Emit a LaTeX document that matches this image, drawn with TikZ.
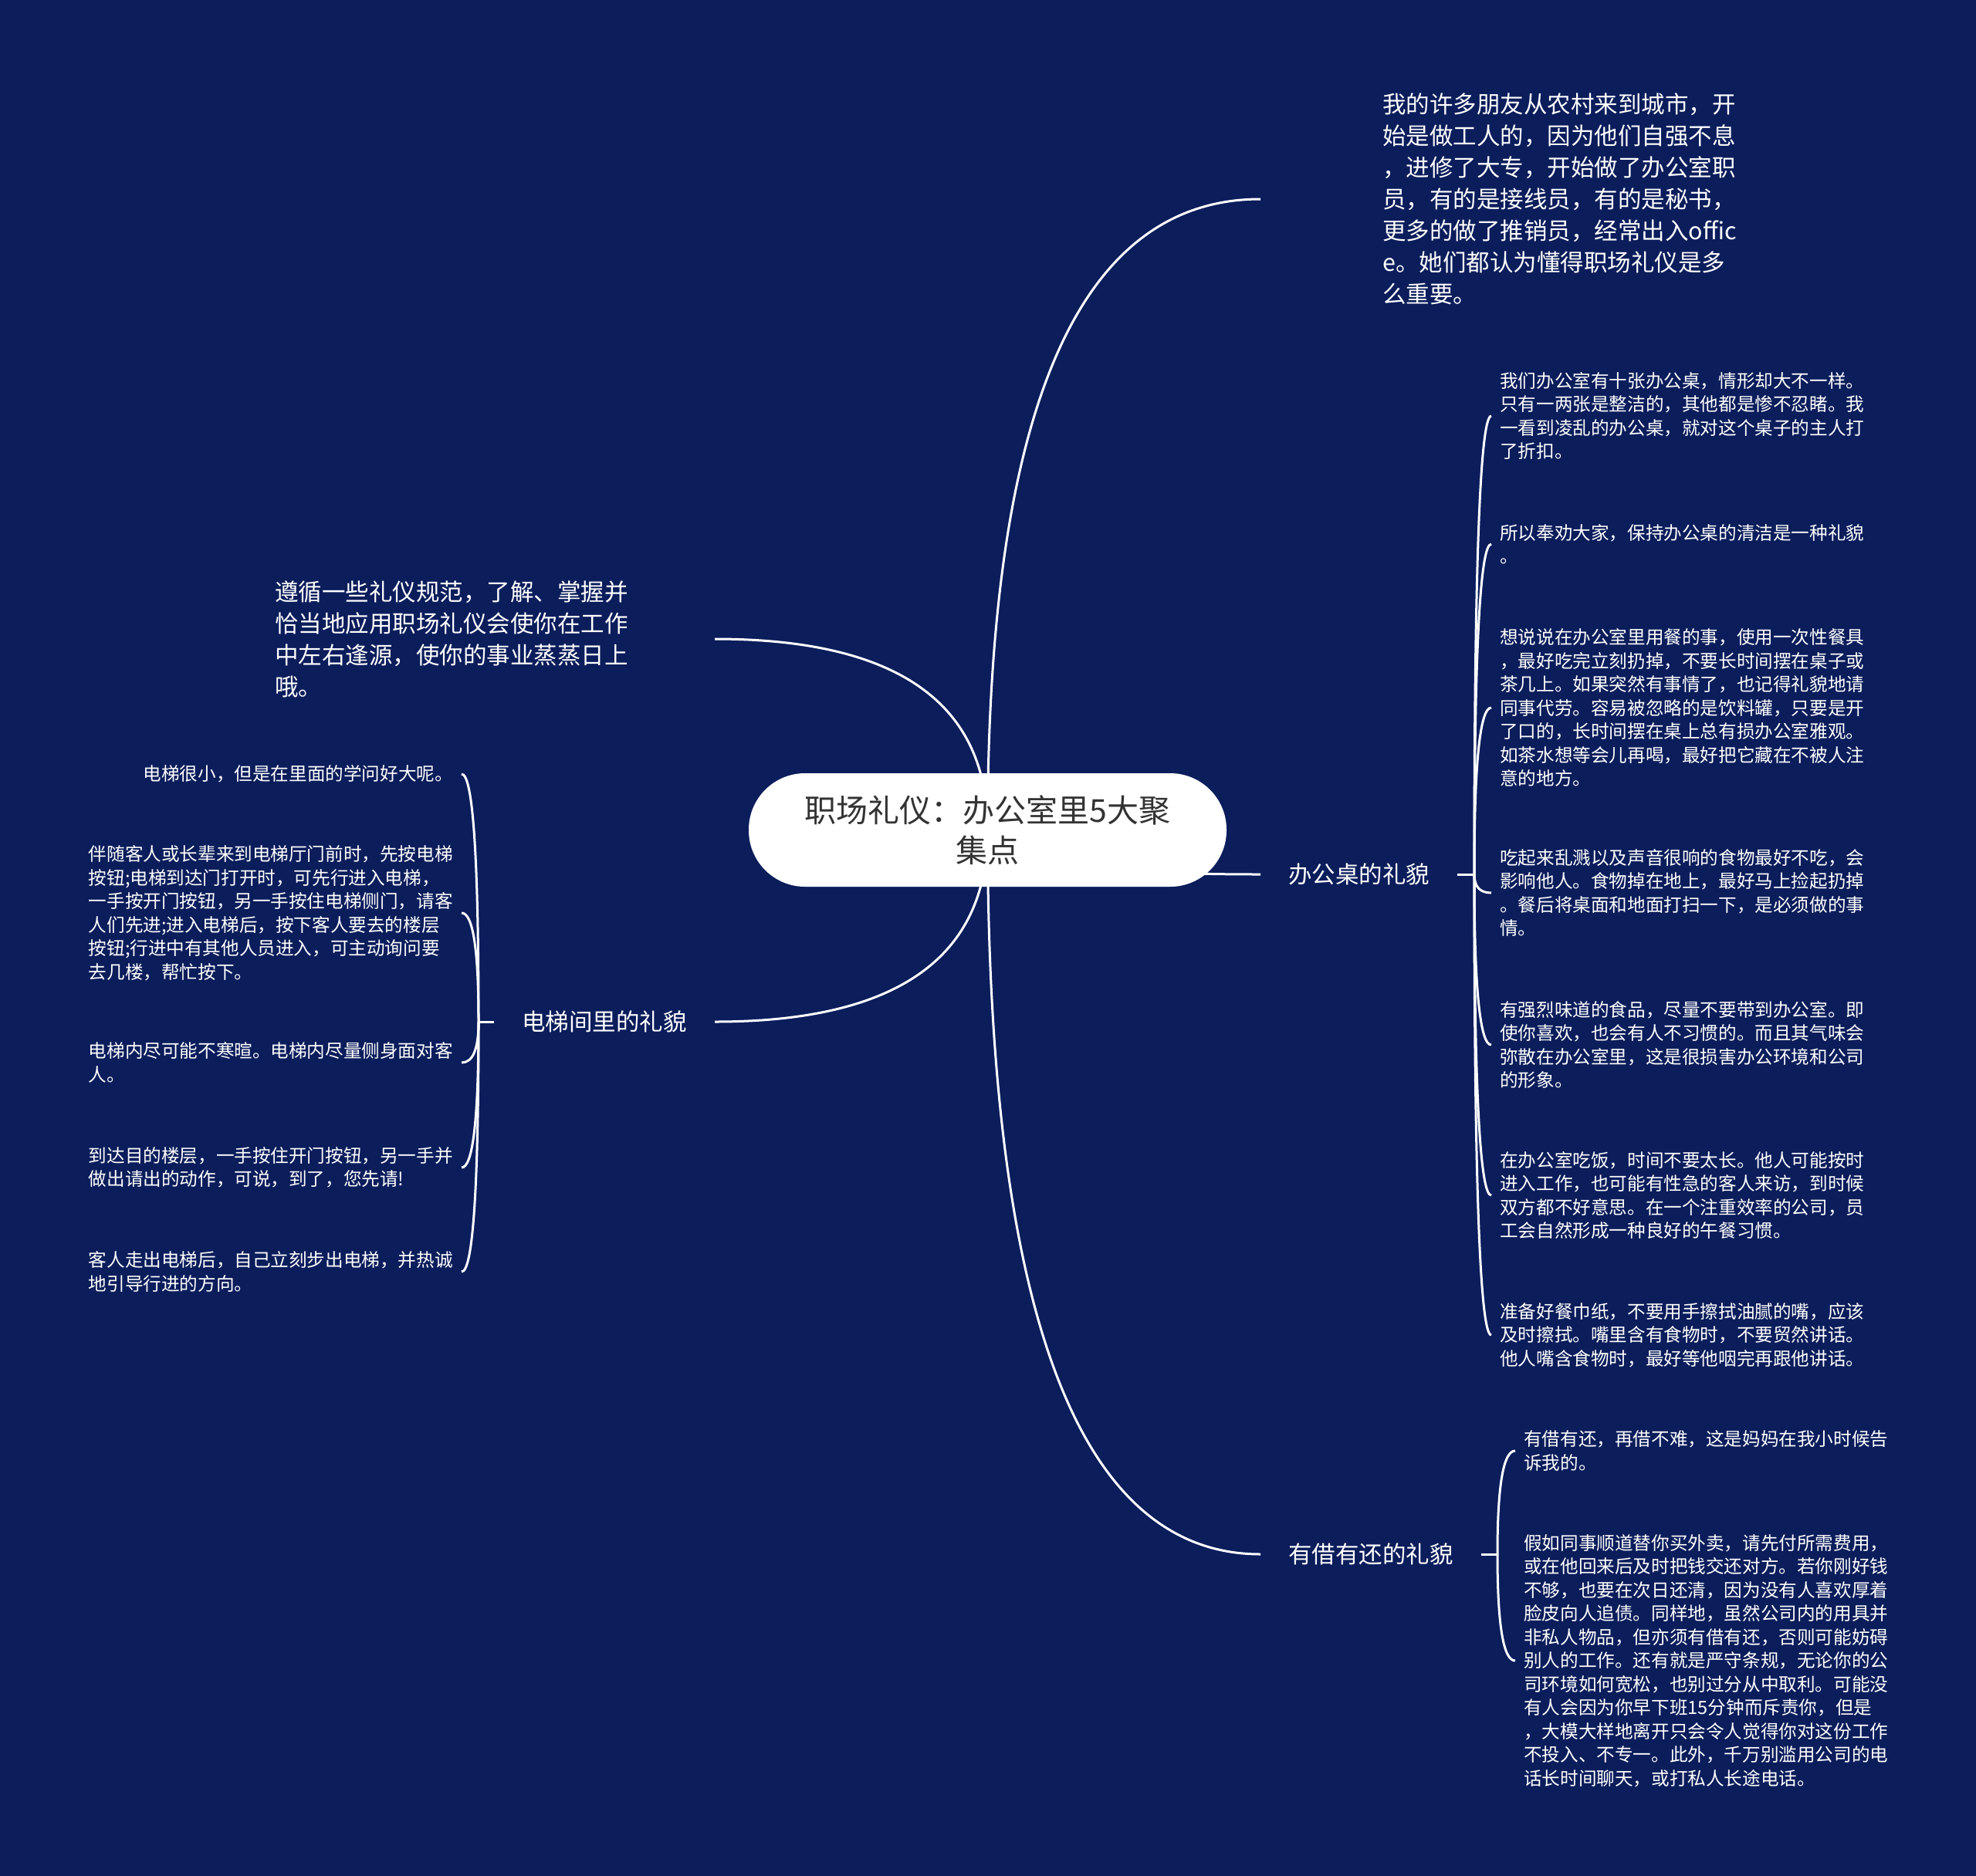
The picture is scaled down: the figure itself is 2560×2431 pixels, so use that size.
\documentclass[tikz,border=0pt]{standalone}
\usepackage{fontspec}
\newfontfamily\cjk{Noto Sans CJK SC}
\usetikzlibrary{calc}
\definecolor{bgnavy}{HTML}{0B1D5B}
\definecolor{rootgray}{HTML}{333333}
\pgfdeclarelayer{bglayer}
\pgfdeclarelayer{connlayer}
\pgfsetlayers{bglayer,connlayer,main}
\newcommand{\mmcurve}[2]{\draw[conn] (#1) .. controls ($(#1)!0.667!(#1|-#2)$) and ($(#2)!0.667!(#1|-#2)$) .. (#2);}
\begin{document}
\begin{tikzpicture}[x=1pt,y=-1pt,
  conn/.style={draw=white,line width=3pt},
  rootnode/.style={fill=white, rounded corners=73pt, minimum width=619pt, minimum height=147pt, inner sep=0pt, align=center, text=rootgray, font=\cjk\fontsize{41}{52}\selectfont},
  bigtext/.style={text=white, align=left, inner xsep=0pt, inner ysep=2pt, font=\cjk\fontsize{30.5}{41}\selectfont},
  branch/.style={text=white, align=center, inner xsep=36pt, inner ysep=4pt, font=\cjk\fontsize{30.5}{41}\selectfont},
  leaf/.style={text=white, align=left, inner xsep=11pt, inner ysep=3pt, font=\cjk\fontsize{23.6}{30.5}\selectfont}]
\begin{pgfonlayer}{bglayer}
\fill[bgnavy] (0,0) rectangle (2560,2431);
\end{pgfonlayer}
\useasboundingbox (0,0) rectangle (2560,2431);

% root
\node[rootnode] (root) at (1279.5,1075.5) {职场礼仪：办公室里5大聚\\集点};

% top right text
\node[bigtext, anchor=west] (t1) at (1791,258) {我的许多朋友从农村来到城市，开\\始是做工人的，因为他们自强不息\\，进修了大专，开始做了办公室职\\员，有的是接线员，有的是秘书，\\更多的做了推销员，经常出入offic\\e。她们都认为懂得职场礼仪是多\\么重要。};
\coordinate (t1in) at (1633,258);

% left text
\node[bigtext, anchor=west] (t2) at (356,828) {遵循一些礼仪规范，了解、掌握并\\恰当地应用职场礼仪会使你在工作\\中左右逢源，使你的事业蒸蒸日上\\哦。};
\coordinate (t2in) at (926,828);

% branches
\node[branch, anchor=west] (desk) at (1633,1133) {办公桌的礼貌};
\node[branch, anchor=west] (borrow) at (1633,2014) {有借有还的礼貌};
\node[branch, anchor=east] (elev) at (926,1324) {电梯间里的礼貌};

\coordinate (dT) at (1910,1133);
\coordinate (bT) at (1940,2014);
\coordinate (eT) at (620,1324);

% desk leaves
\node[leaf, anchor=west] (d1) at (1932,539) {我们办公室有十张办公桌，情形却大不一样。\\只有一两张是整洁的，其他都是惨不忍睹。我\\一看到凌乱的办公桌，就对这个桌子的主人打\\了折扣。};
\node[leaf, anchor=west] (d2) at (1932,705) {所以奉劝大家，保持办公桌的清洁是一种礼貌\\。};
\node[leaf, anchor=west] (d3) at (1932,917) {想说说在办公室里用餐的事，使用一次性餐具\\，最好吃完立刻扔掉，不要长时间摆在桌子或\\茶几上。如果突然有事情了，也记得礼貌地请\\同事代劳。容易被忽略的是饮料罐，只要是开\\了口的，长时间摆在桌上总有损办公室雅观。\\如茶水想等会儿再喝，最好把它藏在不被人注\\意的地方。};
\node[leaf, anchor=west] (d4) at (1932,1157) {吃起来乱溅以及声音很响的食物最好不吃，会\\影响他人。食物掉在地上，最好马上捡起扔掉\\。餐后将桌面和地面打扫一下，是必须做的事\\情。};
\node[leaf, anchor=west] (d5) at (1932,1354) {有强烈味道的食品，尽量不要带到办公室。即\\使你喜欢，也会有人不习惯的。而且其气味会\\弥散在办公室里，这是很损害办公环境和公司\\的形象。};
\node[leaf, anchor=west] (d6) at (1932,1549) {在办公室吃饭，时间不要太长。他人可能按时\\进入工作，也可能有性急的客人来访，到时候\\双方都不好意思。在一个注重效率的公司，员\\工会自然形成一种良好的午餐习惯。};
\node[leaf, anchor=west] (d7) at (1932,1730) {准备好餐巾纸，不要用手擦拭油腻的嘴，应该\\及时擦拭。嘴里含有食物时，不要贸然讲话。\\他人嘴含食物时，最好等他咽完再跟他讲话。};

% borrow leaves
\node[leaf, anchor=west] (b1) at (1963,1880) {有借有还，再借不难，这是妈妈在我小时候告\\诉我的。};
\node[leaf, anchor=west] (b2) at (1963,2152) {假如同事顺道替你买外卖，请先付所需费用，\\或在他回来后及时把钱交还对方。若你刚好钱\\不够，也要在次日还清，因为没有人喜欢厚着\\脸皮向人追债。同样地，虽然公司内的用具并\\非私人物品，但亦须有借有还，否则可能妨碍\\别人的工作。还有就是严守条规，无论你的公\\司环境如何宽松，也别过分从中取利。可能没\\有人会因为你早下班15分钟而斥责你，但是\\，大模大样地离开只会令人觉得你对这份工作\\不投入、不专一。此外，千万别滥用公司的电\\话长时间聊天，或打私人长途电话。};

% elevator leaves
\node[leaf, anchor=east] (e1) at (598,1003) {电梯很小，但是在里面的学问好大呢。};
\node[leaf, anchor=east] (e2) at (598,1183) {伴随客人或长辈来到电梯厅门前时，先按电梯\\按钮;电梯到达门打开时，可先行进入电梯，\\一手按开门按钮，另一手按住电梯侧门，请客\\人们先进;进入电梯后，按下客人要去的楼层\\按钮;行进中有其他人员进入，可主动询问要\\去几楼，帮忙按下。};
\node[leaf, anchor=east] (e3) at (598,1377) {电梯内尽可能不寒暄。电梯内尽量侧身面对客\\人。};
\node[leaf, anchor=east] (e4) at (598,1513) {到达目的楼层，一手按住开门按钮，另一手并\\做出请出的动作，可说，到了，您先请!};
\node[leaf, anchor=east] (e5) at (598,1648) {客人走出电梯后，自己立刻步出电梯，并热诚\\地引导行进的方向。};

\begin{pgfonlayer}{connlayer}
\mmcurve{root.center}{t1in}
\mmcurve{root.center}{desk.west}
\mmcurve{root.center}{borrow.west}
\mmcurve{root.center}{t2in}
\mmcurve{root.center}{elev.east}
\draw[conn] (desk.east) -- (dT);
\draw[conn] (borrow.east) -- (bT);
\draw[conn] (elev.west) -- (eT);
\foreach \n in {d1,d2,d3,d4,d5,d6,d7}{\mmcurve{dT}{\n.west}}
\foreach \n in {b1,b2}{\mmcurve{bT}{\n.west}}
\foreach \n in {e1,e2,e3,e4,e5}{\mmcurve{eT}{\n.east}}
\end{pgfonlayer}
\end{tikzpicture}
\end{document}
